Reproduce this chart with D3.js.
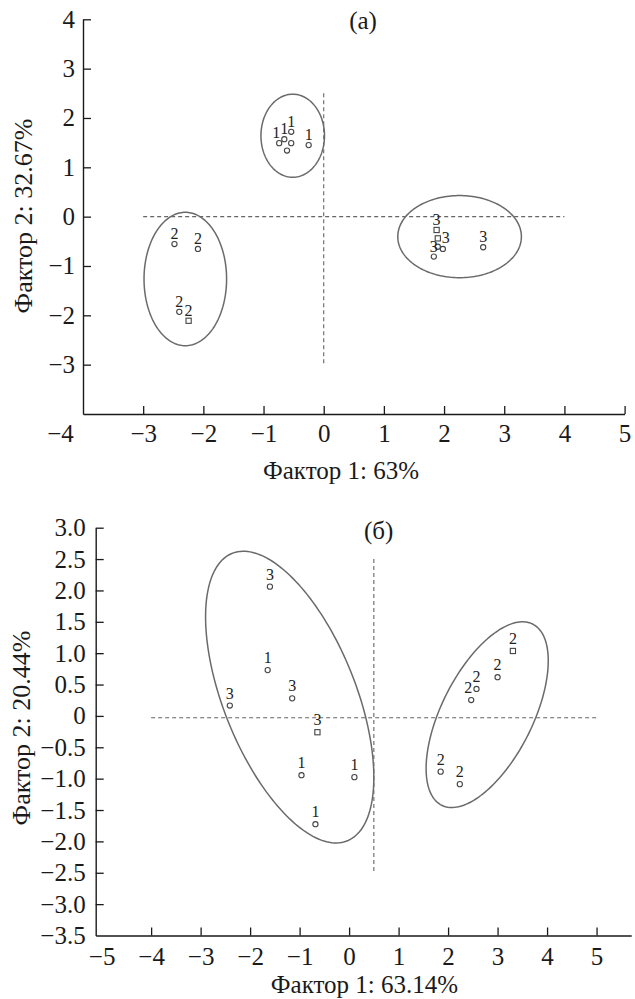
<!DOCTYPE html>
<html><head><meta charset="utf-8">
<script src="https://cdn.jsdelivr.net/npm/d3@7"></script>
<style>html,body{margin:0;padding:0;background:#fff;}svg{display:block;}</style>
</head><body>
<script>
// ---------- Panel (a) data ----------
const xA = [-0.74,-0.655,-0.54,-0.54,-0.61,-0.25, -2.48,-2.09,-2.40,-2.245, 1.876,1.896,1.896,1.98,1.83,2.65];
const yA = [1.49,1.57,1.72,1.49,1.34,1.45, -0.555,-0.655,-1.93,-2.11, -0.27,-0.44,-0.61,-0.655,-0.81,-0.62];
const labelA = ["1","1","1","","","1","2","2","2","2","3","3","","","3","3"];
const shapeA = ["c","c","c","c","c","c","c","c","c","s","s","s","c","c","c","c"];
const placeA = ["l","a","a","","","a","a","a","a","a","a","r","","","a","a"];
const ellCxA = [-0.515,-2.30,2.258];
const ellCyA = [1.64,-1.264,-0.405];
const ellSxA = [0.528,0.686,1.027];
const ellSyA = [0.842,1.352,0.832];
const ellRhoA = [0,0,0];
const refA = [[-3,0,4,0],[0,2.5,0,-3]];
const xTicksA = [-4,-3,-2,-1,0,1,2,3,4,5];
const yTicksA = [-3,-2,-1,0,1,2,3,4];
const titleA = "(a)";
const xTitleA = "Фактор 1: 63%";
const yTitleA = "Фактор 2: 32.67%";

// ---------- Panel (б) data ----------
const xB = [-1.60,-2.41,-1.645,-1.15,-0.64,-0.962,0.107,-0.68, 3.31,3.0,2.574,2.467,1.85,2.237];
const yB = [2.06,0.165,0.73,0.28,-0.26,-0.945,-0.976,-1.726, 1.035,0.617,0.43,0.253,-0.888,-1.088];
const labelB = ["3","3","1","3","3","1","1","1","2","2","2","2","2","2"];
const shapeB = ["c","c","c","c","s","c","c","c","s","c","c","c","c","c"];
const placeB = ["a","a","a","a","a","a","a","a","a","a","a","l","a","a"];
const ellCxB = [-1.20,2.79];
const ellCyB = [0.30,0.02];
const ellSxB = [1.70,1.234];
const ellSyB = [2.325,1.48];
const ellRhoB = [-0.55,0.58];
const refB = [[-4,-0.03,5,-0.03],[0.5,2.5,0.5,-2.5]];
const xTicksB = [-5,-4,-3,-2,-1,0,1,2,3,4,5];
const yTicksB = [-3.5,-3.0,-2.5,-2.0,-1.5,-1.0,-0.5,0,0.5,1.0,1.5,2.0,2.5,3.0];
const titleB = "(б)";
const xTitleB = "Фактор 1: 63.14%";
const yTitleB = "Фактор 2: 20.44%";

const FONT = "'Liberation Serif','Times New Roman',serif";
const W = 635, H = 999;
const svg = d3.select("body").append("svg").attr("width", W).attr("height", H)
  .style("font-family", FONT);

function panel(cfg){
  const g = svg.append("g");
  const x = d3.scaleLinear().domain(cfg.xDom).range(cfg.xRange);
  const y = d3.scaleLinear().domain(cfg.yDom).range(cfg.yRange);

  // reference dashed lines
  g.selectAll("line.ref").data(cfg.ref).join("line").attr("class","ref")
    .attr("x1", d=>x(d[0])).attr("y1", d=>y(d[1]))
    .attr("x2", d=>x(d[2])).attr("y2", d=>y(d[3]))
    .attr("stroke","#666").attr("stroke-width",1.1).attr("stroke-dasharray","4,3");

  // ellipses
  const ells = cfg.ecx.map((c,i)=>({cx:c, cy:cfg.ecy[i], sx:cfg.esx[i], sy:cfg.esy[i], r:cfg.erho[i]}));
  const line = d3.line().curve(d3.curveLinearClosed);
  g.selectAll("path.ell").data(ells).join("path").attr("class","ell")
    .attr("d", e => {
      const pts = d3.range(0, 360, 2).map(a => {
        const t = a*Math.PI/180;
        const px = e.cx + e.sx*Math.cos(t);
        const py = e.cy + e.sy*(e.r*Math.cos(t) + Math.sqrt(1-e.r*e.r)*Math.sin(t));
        return [x(px), y(py)];
      });
      return line(pts);
    })
    .attr("fill","none").attr("stroke","#6a6a6a").attr("stroke-width",1.5);

  // axes
  const fmt = cfg.fmt;
  const ax = g.append("g").attr("transform",`translate(0,${cfg.yRange[0]})`)
    .call(d3.axisBottom(x).tickValues(cfg.xTicks).tickSize(-8).tickSizeOuter(0).tickPadding(cfg.xPad).tickFormat(d=>d3.format("d")(d)));
  const ay = g.append("g").attr("transform",`translate(${cfg.xRange[0]},0)`)
    .call(d3.axisLeft(y).tickValues(cfg.yTicks).tickSize(-8).tickSizeOuter(0).tickPadding(cfg.yPad).tickFormat(fmt));
  [ax, ay].forEach(a=>{
    a.select(".domain").attr("stroke","#1a1a1a").attr("stroke-width",1.4);
    a.selectAll(".tick line").attr("stroke","#1a1a1a").attr("stroke-width",1.3);
    a.selectAll(".tick text").attr("fill","#1a1a1a").style("font-family",FONT).style("font-size","25px");
  });
  if (cfg.hideXTick !== undefined) {
    ax.selectAll(".tick").filter(d=>d===cfg.hideXTick).select("line").remove();
  }
  if (cfg.shiftX) {
    ax.selectAll(".tick").filter(d=>d===cfg.shiftX[0]).select("text").attr("dx", cfg.shiftX[1]);
  }
  if (cfg.hideYTick !== undefined) {
    ay.selectAll(".tick").filter(d=>d===cfg.hideYTick).select("line").remove();
  }

  // points
  const pts = cfg.px.map((v,i)=>({x:v, y:cfg.py[i], lab:cfg.lab[i], sh:cfg.sh[i], pl:cfg.pl[i]}));
  g.selectAll("circle.pt").data(pts.filter(p=>p.sh==="c")).join("circle").attr("class","pt")
    .attr("cx",p=>x(p.x)).attr("cy",p=>y(p.y)).attr("r",2.6)
    .attr("fill","#fff").attr("stroke","#444").attr("stroke-width",1.1);
  g.selectAll("rect.pt").data(pts.filter(p=>p.sh==="s")).join("rect").attr("class","pt")
    .attr("x",p=>x(p.x)-2.6).attr("y",p=>y(p.y)-2.6).attr("width",5.2).attr("height",5.2)
    .attr("fill","#fff").attr("stroke","#444").attr("stroke-width",1.1);
  g.selectAll("text.lab").data(pts.filter(p=>p.lab)).join("text").attr("class","lab")
    .attr("x",p=>x(p.x) + (p.pl==="r" ? 4 : p.pl==="l" ? -3 : 0))
    .attr("y",p=>y(p.y) + (p.pl==="r" ? 5 : cfg.labDy))
    .attr("text-anchor",p=>p.pl==="r" ? "start" : "middle")
    .attr("fill","#222").style("font-size","16px").text(p=>p.lab);

  // titles
  g.append("text").attr("x",cfg.title[1]).attr("y",cfg.title[2]).attr("text-anchor","middle")
    .attr("fill","#1a1a1a").style("font-size","25px").text(cfg.title[0]);
  g.append("text").attr("x",cfg.xt[1]).attr("y",cfg.xt[2]).attr("text-anchor","middle")
    .attr("fill","#1a1a1a").style("font-size","25px").text(cfg.xt[0]);
  g.append("text").attr("transform",`translate(${cfg.yt[1]},${cfg.yt[2]}) rotate(-90)`).attr("text-anchor","middle")
    .attr("fill","#1a1a1a").style("font-size","26px").text(cfg.yt[0]);
}

panel({
  xDom:[-4,5], xRange:[83,624.6], yDom:[-4,4], yRange:[414,19.3],
  xTicks:xTicksA, yTicks:yTicksA, xPad:10, yPad:8,
  fmt:d=>d3.format("d")(d), hideXTick:-4, shiftX:[-4,-23],
  ref:refA, ecx:ellCxA, ecy:ellCyA, esx:ellSxA, esy:ellSyA, erho:ellRhoA,
  px:xA, py:yA, lab:labelA, sh:shapeA, pl:placeA, labDy:-5,
  title:[titleA,363,29], xt:[xTitleA,341,479], yt:[yTitleA,32,216]
});

panel({
  xDom:[-5.12,5.7], xRange:[95.7,631.2], yDom:[-3.5,3.0], yRange:[935.5,527.7],
  xTicks:xTicksB, yTicks:yTicksB, xPad:12, yPad:10,
  fmt:d=>d===0 ? "0" : d3.format(".1f")(d), hideXTick:-5, hideYTick:-3.5,
  ref:refB, ecx:ellCxB, ecy:ellCyB, esx:ellSxB, esy:ellSyB, erho:ellRhoB,
  px:xB, py:yB, lab:labelB, sh:shapeB, pl:placeB, labDy:-7,
  title:[titleB,378.6,539], xt:[xTitleB,364.5,993], yt:[yTitleB,30,728]
});
</script>
</body></html>
